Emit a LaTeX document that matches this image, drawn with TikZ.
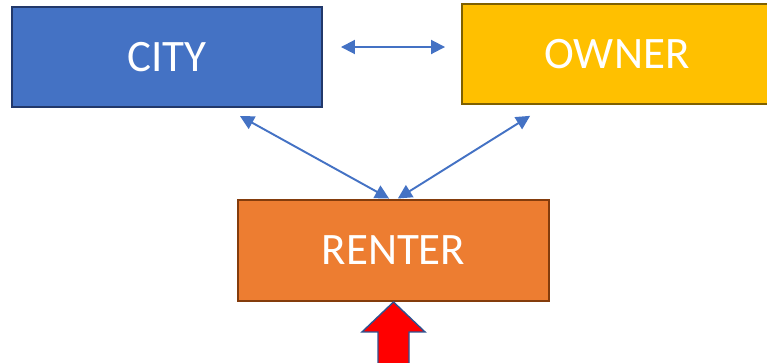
\documentclass[tikz,border=0pt]{standalone}
\usepackage{fontspec}
\setmainfont{Carlito}
\usetikzlibrary{arrows.meta}
\definecolor{cityblue}{HTML}{4472C4}
\definecolor{cityline}{HTML}{22386A}
\definecolor{owneryellow}{HTML}{FFC000}
\definecolor{ownerline}{HTML}{7F6000}
\definecolor{renterorange}{HTML}{ED7D31}
\definecolor{renterline}{HTML}{843C0C}
\definecolor{pushline}{HTML}{2F528F}
\begin{document}
\begin{tikzpicture}[
    party/.style={rectangle,draw,line width=1.1pt,minimum height=2cm,minimum width=6.2cm,text=white,font=\fontsize{25.6}{30}\selectfont},
    link/.style={{Triangle[length=0.28cm,width=0.28cm]}-{Triangle[length=0.28cm,width=0.28cm]},cityblue,line width=1.1pt}
  ]
        \clip (0,0) rectangle (15.34,-7.24);
        \useasboundingbox (0,0) rectangle (15.34,-7.24);
        \node[party,fill=cityblue,draw=cityline] (city) at (3.34,-1.14) {CITY};
        \node[party,fill=owneryellow,draw=ownerline] (owner) at (12.34,-1.08) {OWNER};
        \node[party,fill=renterorange,draw=renterline,minimum width=6.22cm,minimum height=2.02cm] (renter) at (7.87,-5.01) {RENTER};
        \draw[link, shorten <= 0.36cm, shorten >= 0.32cm] ([yshift=0.2cm]city.east) -- ([yshift=0.14cm]owner.west);
        \draw[link, shorten <= 0.33cm, shorten >= 0.02cm] ([xshift=1.17cm]city.south) -- ([xshift=-0.07cm]renter.north);
        \draw[link, shorten <= 0.41cm, shorten >= 0.02cm] ([xshift=-1.39cm]owner.south) -- ([xshift=0.07cm]renter.north);
        \draw[fill=red,draw=pushline,line width=0.8pt] (renter.south) -- ++(0.63,-0.6) -- ++(-0.32,0) -- ++(0,-0.9) -- ++(-0.62,0) -- ++(0,0.9) -- ++(-0.32,0) -- cycle;
    \end{tikzpicture}
\end{document}
